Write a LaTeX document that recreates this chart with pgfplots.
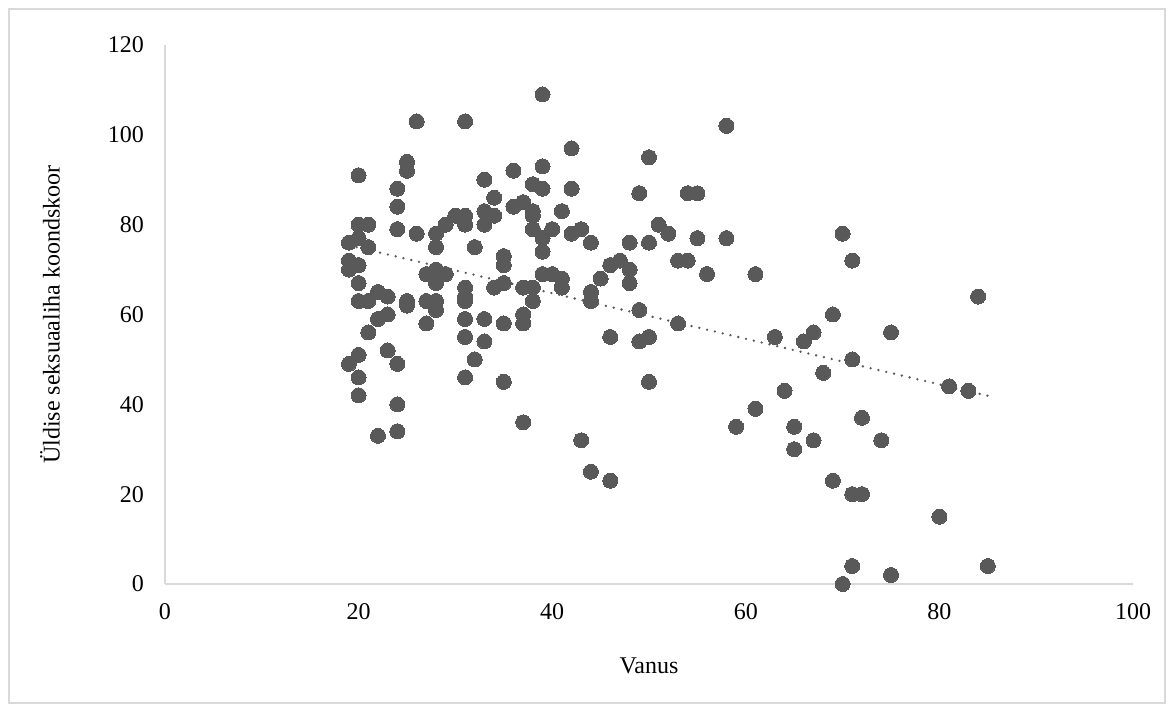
\documentclass[border=0pt]{standalone}
\usepackage{fontspec}
\setmainfont{Liberation Serif}
\usepackage{pgfplots}
\pgfplotsset{compat=1.18}
\definecolor{dotgray}{HTML}{595959}
\definecolor{axisgray}{HTML}{D9D9D9}

\pgfplotstableread{
x y
19 76
19 72
19 70
19 49
20 91
20 80
20 77
20 71
20 67
20 63
20 51
20 46
20 42
21 80
21 75
21 63
21 56
22 65
22 59
22 33
23 64
23 60
23 52
24 88
24 84
24 79
24 49
24 40
24 34
25 94
25 92
25 63
25 62
26 103
26 78
27 69
27 63
27 58
28 78
28 75
28 70
28 67
28 63
28 61
29 80
29 69
30 82
31 103
31 82
31 80
31 66
31 64
31 63
31 59
31 55
31 46
32 75
32 50
33 90
33 83
33 80
33 59
33 54
34 86
34 82
34 66
35 73
35 71
35 67
35 58
35 45
36 92
36 84
37 85
37 66
37 60
37 58
37 36
38 89
38 83
38 82
38 79
38 66
38 63
39 109
39 93
39 88
39 77
39 74
39 69
40 79
40 69
41 83
41 68
41 66
42 97
42 88
42 78
43 79
43 32
44 76
44 65
44 63
44 25
45 68
46 71
46 55
46 23
47 72
48 76
48 70
48 67
49 87
49 61
49 54
50 95
50 76
50 55
50 45
51 80
52 78
53 72
53 58
54 87
54 72
55 87
55 77
56 69
58 102
58 77
59 35
61 69
61 39
63 55
64 43
65 35
65 30
66 54
67 56
67 32
68 47
69 60
69 23
70 78
70 0
71 72
71 50
71 20
71 4
72 37
72 20
74 32
75 56
75 2
80 15
81 44
83 43
84 64
85 4
}\scoredata

\begin{document}
\begin{tikzpicture}
\useasboundingbox (0,0) rectangle (587pt,356pt);
\draw[axisgray, line width=0.6pt] (4.5pt,4.5pt) rectangle (582.5pt,351.5pt);
\begin{axis}[
  at={(82.5pt,64pt)}, anchor=south west,
  scale only axis, width=484pt, height=269.5pt,
  xmin=0, xmax=100, ymin=0, ymax=120,
  xtick={0,20,...,100}, ytick={0,20,...,120},
  axis x line*=bottom, axis y line*=left,
  axis line style={-, draw=axisgray, line width=0.75pt},
  major tick length=0pt, tick style={draw=none},
  clip=false,
  ticklabel style={font=\fontsize{12}{14}\selectfont},
  /pgf/number format/assume math mode=true,
  yticklabel style={xshift=-7pt},
  xticklabel style={yshift=-6pt},
  label style={font=\fontsize{12}{14}\selectfont},
  xlabel={Vanus},
  ylabel={Üldise seksuaaliha koondskoor},
  xlabel style={at={(rel axis cs:0.5,0)}, anchor=center, yshift=-41pt},
  ylabel style={at={(rel axis cs:0,0.5)}, anchor=center, rotate=0, yshift=57.5pt},
]
\addplot[dotgray, only marks, mark=*, mark size=3.75pt, mark options={draw=dotgray, fill=dotgray, line width=0pt}] table[x=x, y=y] {\scoredata};
\addplot[dotgray, line width=1.3pt, dash pattern=on 0pt off 4pt, line cap=round] coordinates {(19,75.4) (85,41.9)};
\end{axis}
\end{tikzpicture}
\end{document}
